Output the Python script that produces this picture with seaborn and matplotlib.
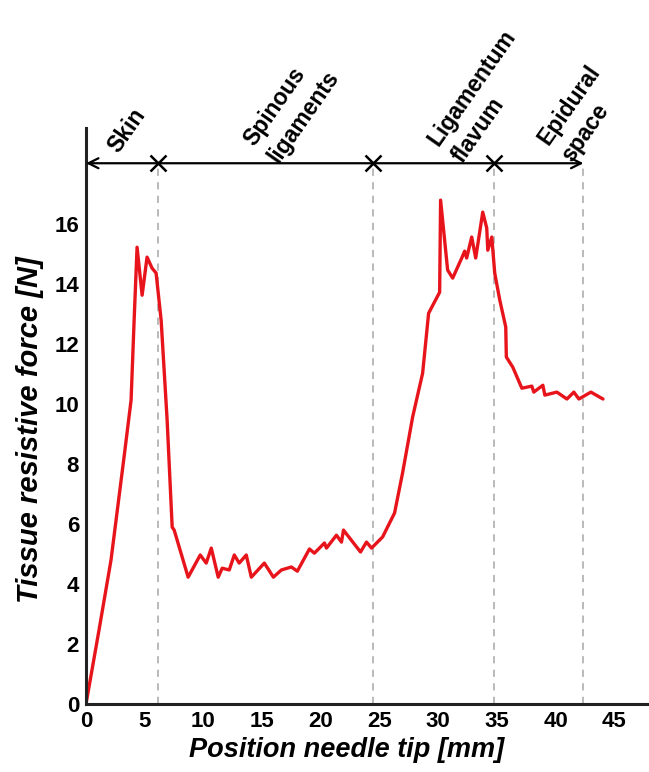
import numpy as np
import pandas as pd
import seaborn as sns
import matplotlib.pyplot as plt

# needle tip position [mm] and resistive force [N]
position = [0.00, 1.11, 2.13, 3.24, 3.84, 4.10, 4.35, 4.78, 5.20, 5.63, 5.97, 6.40,
            6.91, 7.34, 7.51, 8.70, 9.73, 10.24, 10.67, 11.26, 11.60, 12.20, 12.63,
            13.05, 13.65, 14.08, 15.19, 15.96, 16.64, 17.49, 18.00, 19.03, 19.45,
            20.31, 20.48, 21.33, 21.76, 21.93, 23.38, 23.89, 24.32, 25.26, 26.28,
            26.96, 27.82, 28.67, 29.18, 30.12, 30.20, 30.80, 31.23, 32.00, 32.25,
            32.42, 32.85, 33.19, 33.79, 34.13, 34.22, 34.56, 34.81, 35.24, 35.75,
            35.80, 36.35, 37.12, 37.97, 38.14, 38.91, 39.08, 40.10, 40.96, 41.55,
            41.98, 43.00, 44.03]
force = [0.00, 2.47, 4.80, 8.23, 10.13, 12.80, 15.23, 13.63, 14.90, 14.53, 14.37, 12.80,
         9.47, 5.90, 5.80, 4.23, 4.97, 4.70, 5.20, 4.23, 4.53, 4.47, 4.97,
         4.70, 4.97, 4.23, 4.70, 4.23, 4.47, 4.57, 4.43, 5.17, 5.03,
         5.37, 5.20, 5.63, 5.40, 5.80, 5.07, 5.40, 5.20, 5.57, 6.37,
         7.70, 9.57, 11.03, 13.03, 13.73, 16.80, 14.47, 14.20, 14.87, 15.10,
         14.87, 15.57, 14.87, 16.40, 15.87, 15.13, 15.57, 14.37, 13.47, 12.57,
         11.57, 11.23, 10.53, 10.60, 10.40, 10.63, 10.30, 10.40, 10.17, 10.40,
         10.17, 10.40, 10.17]

boundaries = [6.10, 24.47, 34.71, 42.37]
tissue_labels = ['Skin', 'Spinous\nligaments', 'Ligamentum\nflavum', 'Epidural\nspace']
label_pos = [(2.75, 18.33), (15.9, 18.12), (31.6, 18.12), (41.0, 18.15)]

df = pd.DataFrame({'pos': position, 'force': force})

sns.set_style("white")
plt.rcParams['font.family'] = ['Liberation Sans', 'DejaVu Sans']
plt.rcParams['text.color'] = 'black'

fig = plt.figure(figsize=(6.49, 7.72), dpi=100)
ax = fig.add_axes([0.1325, 0.088, 0.8675, 0.746])

sns.lineplot(x='pos', y='force', data=df, sort=False, estimator=None,
             color='#e8141b', linewidth=2.4, ax=ax)

arrow_y = 18.03
for b in boundaries:
    ax.plot([b, b], [0, arrow_y], color='#b4b4b4', lw=1.3, ls=(0, (4, 3.5)), zorder=1)

ax.annotate('', xy=(boundaries[-1], arrow_y), xytext=(0, arrow_y),
            arrowprops=dict(arrowstyle='<->', color='black', lw=1.6,
                            mutation_scale=18, shrinkA=0, shrinkB=0),
            annotation_clip=False)
ax.plot(boundaries[:3], [arrow_y] * 3, ls='none', marker='x', ms=11, mew=1.8,
        color='black', clip_on=False)

for (lx, ly), txt in zip(label_pos, tissue_labels):
    ax.text(lx, ly, txt, rotation=55, rotation_mode='anchor', ha='left', va='baseline',
            fontsize=16.5, fontweight='bold', linespacing=1.35, clip_on=False)

ax.set_xlim(0, 47.95)
ax.set_ylim(0, 19.2)
ax.set_xticks(np.arange(0, 50, 5))
ax.set_yticks(np.arange(0, 18, 2))
ax.tick_params(length=0, labelsize=16, pad=5, labelcolor='black')
for lab in ax.get_xticklabels() + ax.get_yticklabels():
    lab.set_fontweight('bold')

ax.set_xlabel('Position needle tip [mm]', fontsize=19.5, fontweight='bold',
              fontstyle='italic', color='black')
ax.set_ylabel('Tissue resistive force [N]', fontsize=21, fontweight='bold',
              fontstyle='italic', color='black')
ax.xaxis.set_label_coords(0.4636, -0.058, transform=ax.transAxes)
ax.yaxis.set_label_coords(-0.099, 0.4757, transform=ax.transAxes)
ax.xaxis.label.set_va('top')
ax.yaxis.label.set_va('center')

sns.despine(ax=ax)
for side in ['left', 'bottom']:
    ax.spines[side].set_color('#222222')
    ax.spines[side].set_linewidth(2.2)

plt.savefig('out.png', dpi=100)
